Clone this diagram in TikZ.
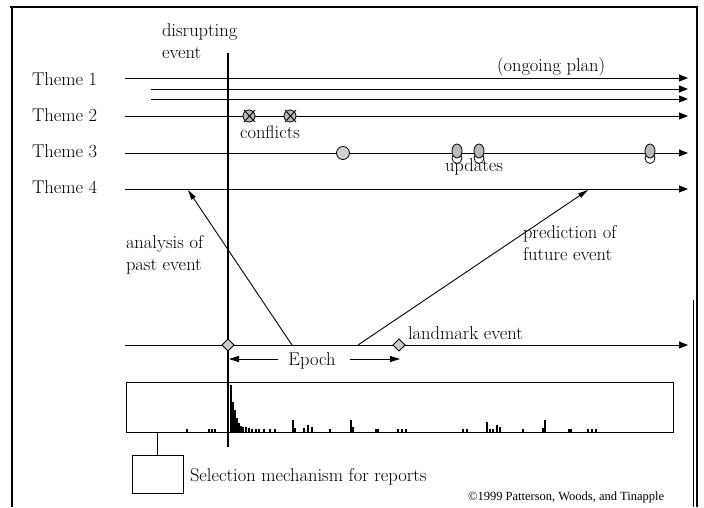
\documentclass[tikz,border=0pt]{standalone}
\usepackage{fontspec}
\newfontfamily\copyfont{Liberation Serif}
\usetikzlibrary{arrows.meta,shapes.geometric}
\begin{document}
\begin{tikzpicture}[x=1pt,y=-1pt,
  every node/.style={inner sep=0pt,outer sep=0pt},
  lbl/.style={font=\fontsize{18.5}{22}\selectfont,anchor=base west},
  mlbl/.style={font=\fontsize{18.5}{22}\selectfont,anchor=north west,align=left},
  tline/.style={line width=0.9pt,-{Triangle[length=9pt,width=7pt]}},
  plain/.style={line width=0.9pt},
  diag/.style={line width=0.9pt,-{Triangle[length=10pt,width=5pt]}},
  eparrow/.style={line width=0.9pt,-{Triangle[length=10pt,width=6pt]}},
  gem/.style={diamond,draw,fill=gray!40,line width=0.8pt,minimum width=12pt,minimum height=12pt},
  conf/.style={circle,draw,fill=gray!55,line width=0.8pt,minimum size=12pt},
  dot/.style={circle,draw,fill=gray!35,line width=0.8pt,minimum size=13pt},
  upd/.style={ellipse,draw,fill=gray!55,line width=0.8pt,minimum width=10pt,minimum height=14pt},
  updlow/.style={ellipse,draw,fill=white,line width=0.8pt,minimum width=10pt,minimum height=11pt},
  bar/.style={line width=1.3pt},
  frameline/.style={line width=2.2pt}
]
\useasboundingbox (0,0) rectangle (704,507);

% frame
\coordinate (fa) at (10,7);
\coordinate (fb) at (697,7);
\coordinate (fc) at (12,507);
\coordinate (fd) at (697,507);
\draw[frameline] (fa) -- (fb);
\draw[line width=2.6pt] (12,6) -- (fc);
\draw[line width=2.8pt] (697,6) -- (fd);
\draw[line width=0.7pt] (693,300) -- (693,507);

% labels
\node[mlbl] (dis) at (162,24) {disrupting\\event};
\node[lbl] (th1) at (32,85) {Theme 1};
\node[lbl] (th2) at (32,121) {Theme 2};
\node[lbl] (th3) at (32,157) {Theme 3};
\node[lbl] (th4) at (32,193) {Theme 4};
\node[lbl] (plan) at (497,71) {(ongoing plan)};

% theme lines
\coordinate (l1a) at (125,78);  \coordinate (l1b) at (688,78);
\coordinate (l2a) at (151,89);  \coordinate (l2b) at (688,89);
\coordinate (l3a) at (151,99);  \coordinate (l3b) at (688,99);
\coordinate (l4a) at (125,116); \coordinate (l4b) at (688,116);
\coordinate (l5a) at (125,153); \coordinate (l5b) at (688,153);
\coordinate (l6a) at (125,189); \coordinate (l6b) at (688,189);
\coordinate (l7a) at (125,345); \coordinate (l7b) at (688,345);
\foreach \i in {1,...,7} {\draw[tline] (l\i a) -- (l\i b);}

% disrupting event line
\coordinate (dtop) at (228,53);
\coordinate (dbot) at (228,447);
\draw[line width=2.8pt] (dtop) -- (dbot);

% conflicts
\foreach \n/\x in {c1/249,c2/290} {
  \node[conf] (\n) at (\x,116) {};
  \draw[line width=0.9pt] ([shift={(-5,-6)}]\n.center) -- ([shift={(6,6)}]\n.center);
  \draw[line width=0.9pt] ([shift={(6,-6)}]\n.center) -- ([shift={(-5,6)}]\n.center);
}
\node[lbl] (conflicts) at (240,138) {conflicts};

% theme 3 markers
\node[dot] (m1) at (343,153) {};
\foreach \n/\x in {u1/457,u2/479,u3/650} {
  \node[updlow] (\n b) at (\x,158) {};
  \node[upd] (\n) at (\x,151) {};
}
\node[lbl] (updates) at (445,171) {updates};

% analysis / prediction
\coordinate (an) at (188,190);
\coordinate (pr) at (588,190);
\coordinate (as) at (292,345);
\coordinate (ps) at (358,345);
\draw[diag] (as) -- (an);
\draw[diag] (ps) -- (pr);
\node[mlbl] (antext) at (126,236) {analysis of\\past event};
\node[mlbl] (prtext) at (523,226) {prediction of\\future event};

% landmark line
\node[gem] (d1) at (228,345) {};
\node[gem] (d2) at (399,345) {};
\node[lbl] (land) at (408,339) {landmark event};

% epoch
\node[font=\fontsize{18.5}{22}\selectfont,anchor=base] (epoch) at (312,365) {Epoch};
\coordinate (ep1) at (229,359);
\coordinate (ep2) at (400,359);
\draw[eparrow] ([xshift=-10pt]epoch.west |- ep1) -- (ep1);
\draw[eparrow] ([xshift=14pt]epoch.east |- ep2) -- (ep2);

% report box
\node[draw,line width=0.9pt,minimum width=547pt,minimum height=50pt] (rep) at (399.5,407) {};
\foreach \x/\h in {187/3,209/3,212/3,215/3,
  231/47,233/30,235/22,237/14,239/9,241/6,243/5,246/5,249/4,252/3,256/3,259/3,264/3,
  270/3,275/3,293/12,295/4,304/4,308/7,312/5,330/3,351/12,353/5,376/3,378/3,
  398/3,402/3,406/3,463/3,467/3,487/10,490/3,493/3,497/7,500/5,523/3,
  543/4,545/12,569/3,571/3,588/3,592/3,596/3} {
  \draw[bar] (\x,432) -- (\x,432-\h);
}

% selection mechanism
\node[draw,line width=0.9pt,minimum width=51pt,minimum height=38pt] (sel) at (157.5,474) {};
\draw[plain] (sel.north) -- (sel.north |- rep.south);
\node[lbl] (seltext) at (190,481) {Selection mechanism for reports};
\node[font=\copyfont\fontsize{12.5}{14}\selectfont,anchor=base west] (copy) at (468,500) {©1999 Patterson, Woods, and Tinapple};
\end{tikzpicture}
\end{document}
